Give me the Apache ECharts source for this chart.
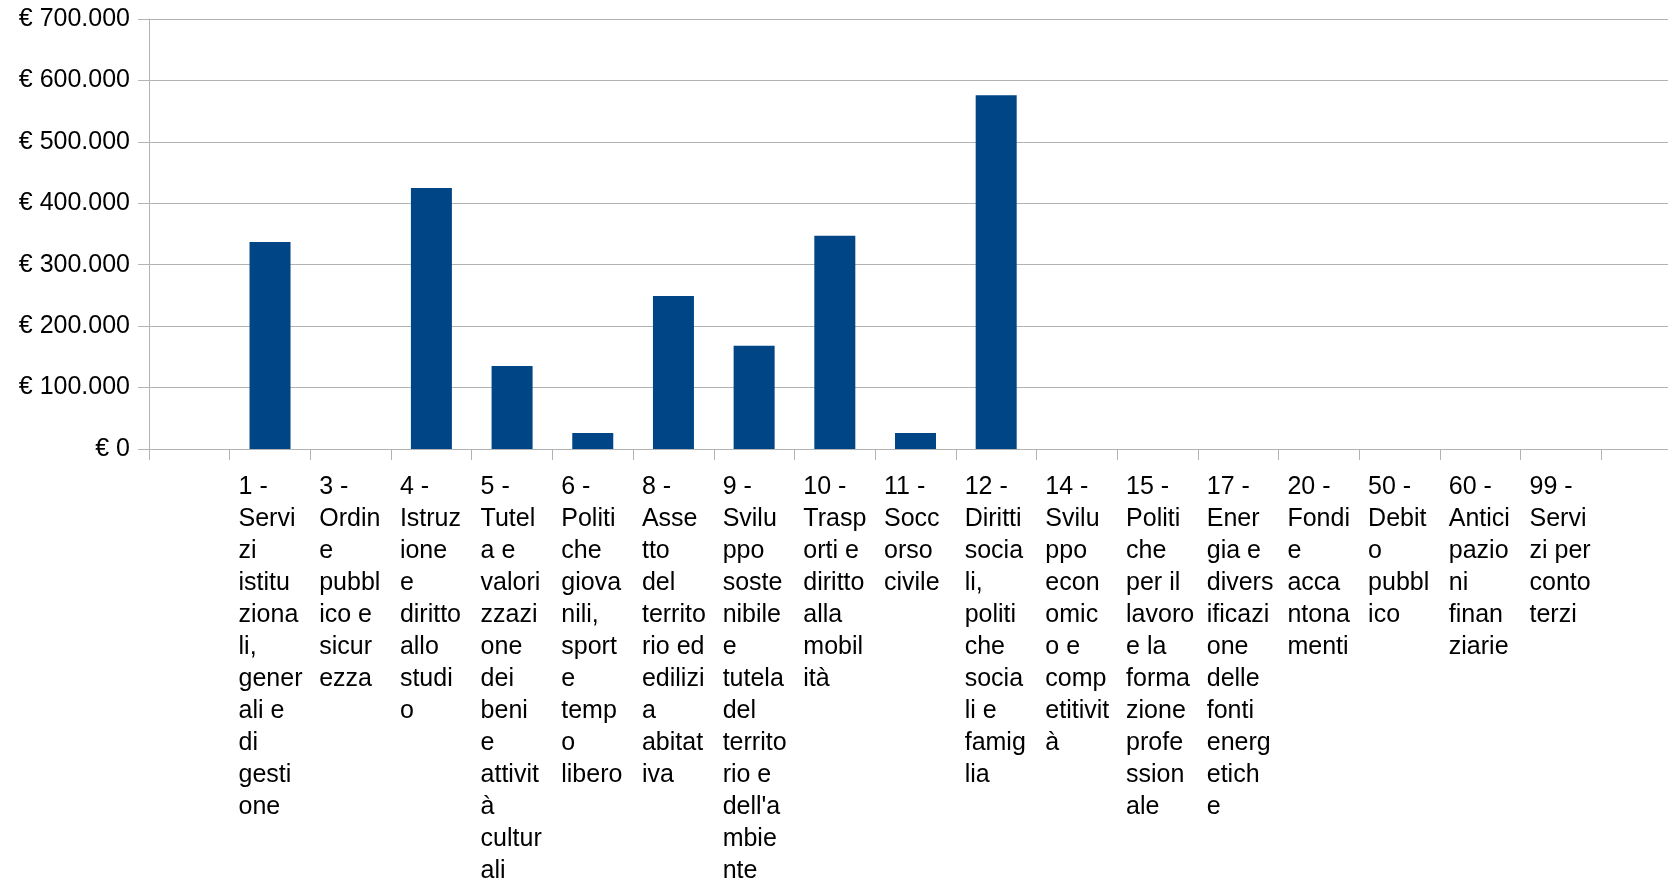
<!DOCTYPE html>
<html>
<head>
<meta charset="utf-8">
<script src="https://cdn.jsdelivr.net/npm/echarts@6/dist/echarts.min.js"></script>
<style>
  html, body { margin: 0; padding: 0; background: #fff; }
  #chart { width: 1668px; height: 883px; }
</style>
</head>
<body>
<div id="chart"></div>
<script>
// categories as wrapped in the original (first and last slots are empty)
const categories = [
  "",
  "1 -\nServi\nzi\nistitu\nziona\nli,\ngener\nali e\ndi\ngesti\none",
  "3 -\nOrdin\ne\npubbl\nico e\nsicur\nezza",
  "4 -\nIstruz\nione\ne\ndiritto\nallo\nstudi\no",
  "5 -\nTutel\na e\nvalori\nzzazi\none\ndei\nbeni\ne\nattivit\nà\ncultur\nali",
  "6 -\nPoliti\nche\ngiova\nnili,\nsport\ne\ntemp\no\nlibero",
  "8 -\nAsse\ntto\ndel\nterrito\nrio ed\nedilizi\na\nabitat\niva",
  "9 -\nSvilu\nppo\nsoste\nnibile\ne\ntutela\ndel\nterrito\nrio e\ndell'a\nmbie\nnte",
  "10 -\nTrasp\norti e\ndiritto\nalla\nmobil\nità",
  "11 -\nSocc\norso\ncivile",
  "12 -\nDiritti\nsocia\nli,\npoliti\nche\nsocia\nli e\nfamig\nlia",
  "14 -\nSvilu\nppo\necon\nomic\no e\ncomp\netitivit\nà",
  "15 -\nPoliti\nche\nper il\nlavoro\ne la\nforma\nzione\nprofe\nssion\nale",
  "17 -\nEner\ngia e\ndivers\nificazi\none\ndelle\nfonti\nenerg\netich\ne",
  "20 -\nFondi\ne\nacca\nntona\nmenti",
  "50 -\nDebit\no\npubbl\nico",
  "60 -\nAntici\npazio\nni\nfinan\nziarie",
  "99 -\nServi\nzi per\nconto\nterzi",
  ""
];
const values = [null, 337000, 0, 425000, 135000, 26000, 249000, 168000, 347000, 26000, 576000, 0, 0, 0, 0, 0, 0, 0, null];
const yMax = 700000;
const yStep = 100000;

const font = "'Liberation Sans', Arial, sans-serif";
const axisGray = "#b3b3b3";

function euro(v) {
  return "€ " + String(v).replace(/\B(?=(\d{3})+(?!\d))/g, ".");
}

const chart = echarts.init(document.getElementById("chart"));
chart.setOption({
  animation: false,
  backgroundColor: "#fff",
  // plot runs past the right edge, as in the original picture
  grid: { left: 149, top: 19, width: 1533, height: 430, containLabel: false, outerBoundsMode: "none" },
  xAxis: {
    type: "category",
    data: categories,
    boundaryGap: true,
    axisLine: { show: true, lineStyle: { color: axisGray, width: 1 } },
    axisTick: { show: true, interval: 0, length: 11, inside: false, lineStyle: { color: axisGray } },
    axisLabel: {
      interval: 0,
      hideOverlap: false,
      margin: 22,
      align: "center",
      verticalAlign: "top",
      formatter: (v) => (v ? "{a|" + v + "}" : ""),
      rich: {
        a: { width: 63, align: "left", fontSize: 25, lineHeight: 32, fontFamily: font, color: "#000" }
      }
    },
    splitLine: { show: false }
  },
  yAxis: {
    type: "value",
    min: 0,
    max: yMax,
    interval: yStep,
    axisLine: { show: true, lineStyle: { color: axisGray, width: 1 } },
    axisTick: { show: true, length: 11, inside: false, lineStyle: { color: axisGray } },
    axisLabel: { margin: 19, fontSize: 25, fontFamily: font, color: "#000", padding: [3, 0, 0, 0], formatter: euro },
    splitLine: { show: true, lineStyle: { color: axisGray, width: 1 } }
  },
  series: [{
    type: "bar",
    data: values,
    barWidth: 41,
    itemStyle: { color: "#004586" }
  }]
});
</script>
</body>
</html>
